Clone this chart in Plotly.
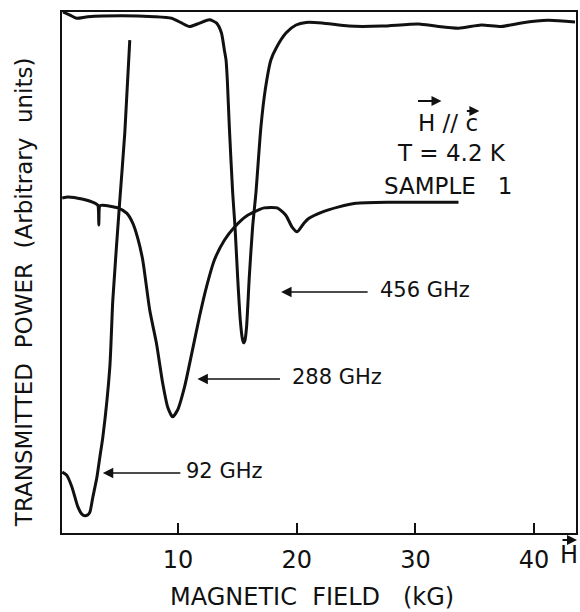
import plotly.graph_objects as go

# ---- data ----
# magnetic field in kG, transmitted power in arbitrary units (0-100 frame)
h_456 = [0.30, 0.89, 1.45, 2.40, 5.25, 8.02, 9.45, 10.29, 10.96, 11.63, 12.64, 13.23, 13.65, 13.90,
         14.04, 14.15, 14.32, 14.60, 14.80, 15.02, 15.24, 15.41, 15.52, 15.64, 15.77, 16.00, 16.28,
         16.56, 16.98, 17.34, 17.82, 18.27, 19.11, 19.94, 20.78, 22.13, 24.39, 27.16, 30.27, 31.70,
         33.63, 35.56, 37.24, 38.92, 41.18, 43.45]
p_456 = [100.0, 99.4, 98.8, 99.1, 99.3, 99.1, 98.8, 97.9, 97.2, 97.7, 98.5, 97.9, 96.0, 92.7,
         90.8, 86.9, 77.9, 65.3, 58.7, 49.1, 40.9, 37.4, 36.5, 37.0, 39.5, 49.1, 58.7,
         65.3, 77.9, 85.0, 90.8, 93.1, 96.0, 97.5, 98.0, 97.9, 97.3, 97.3, 97.7, 97.3,
         96.9, 97.5, 97.2, 97.9, 98.4, 98.1]

h_288 = [0.24, 0.72, 1.90, 2.99, 3.24, 3.32, 3.41, 3.66, 4.92, 5.67, 6.18, 6.60, 7.02, 7.61, 8.17,
         8.70, 9.12, 9.54, 9.96, 10.54, 11.21, 11.80, 12.39, 13.06, 13.90, 14.74, 15.86, 17.26,
         18.35, 19.08, 19.61, 20.03, 20.62, 21.03, 22.13, 23.55, 24.98, 27.75, 30.52, 33.63]
p_288 = [64.3, 64.5, 64.1, 63.3, 62.9, 59.1, 62.8, 62.9, 62.4, 61.4, 59.5, 56.6, 52.4, 42.8, 36.5,
         28.8, 24.2, 22.3, 23.6, 28.0, 35.1, 41.5, 47.2, 52.4, 56.2, 58.7, 61.0, 62.4,
         62.4, 61.0, 58.7, 57.8, 59.5, 60.4, 61.6, 62.6, 63.3, 63.5, 63.5, 63.5]

h_92 = [0.24, 0.61, 1.06, 1.56, 1.90, 2.15, 2.40, 2.57, 2.82, 3.16, 3.41, 3.66, 4.25, 4.50, 5.09,
        5.51, 5.93]
p_92 = [11.7, 11.1, 8.8, 5.0, 3.6, 3.3, 3.5, 4.0, 6.9, 10.7, 14.6, 18.4, 31.9, 44.7, 63.9,
        76.8, 94.6]

tick_vals = [10, 20, 30, 40]
tick_text = ["10", "20", "30", "40"]
curve_labels = ["456 GHz", "288 GHz", "92 GHz"]

FONT = "DejaVu Sans"
INK = "#111111"

fig = go.Figure()
for hx, py in [(h_456, p_456), (h_288, p_288), (h_92, p_92)]:
    fig.add_trace(go.Scatter(x=hx, y=py, mode="lines",
                             line=dict(color=INK, width=3, shape="spline", smoothing=0.6),
                             showlegend=False, hoverinfo="skip"))

W, H = 580, 612
L, R, T, B = 62, 2, 12, 79
pw, ph = W - L - R, H - T - B


def px(xp):
    return (xp - L) / pw


def py_(yp):
    return (H - B - yp) / ph


ann = []
# axis titles
ann.append(dict(xref="paper", yref="paper", x=px(313), y=py_(597), text="MAGNETIC\u00a0\u00a0FIELD\u00a0\u00a0\u00a0(kG)",
                showarrow=False, font=dict(family=FONT, size=24, color=INK), xanchor="center", yanchor="middle"))
ann.append(dict(xref="paper", yref="paper", x=px(24), y=py_(292),
                text="TRANSMITTED\u00a0\u00a0POWER\u00a0\u00a0(Arbitrary\u00a0\u00a0units)", textangle=-90,
                showarrow=False, font=dict(family=FONT, size=23, color=INK), xanchor="center", yanchor="middle"))
# H at end of axis with vector arrow
ann.append(dict(xref="paper", yref="paper", x=px(571), y=py_(555), text="H", showarrow=False,
                font=dict(family=FONT, size=24, color=INK), xanchor="center", yanchor="middle"))
ann.append(dict(xref="paper", yref="paper", x=px(579), y=py_(540), ax=-16, ay=0, text="", showarrow=True,
                arrowhead=2, arrowsize=1, arrowwidth=2, arrowcolor=INK))
# condition block
ann.append(dict(xref="paper", yref="paper", x=px(449), y=py_(123), text="H\u00a0//\u00a0c", showarrow=False,
                font=dict(family=FONT, size=23, color=INK), xanchor="center", yanchor="middle"))
ann.append(dict(xref="paper", yref="paper", x=px(443), y=py_(101), ax=-25, ay=0, text="", showarrow=True,
                arrowhead=2, arrowsize=1, arrowwidth=2, arrowcolor=INK))
ann.append(dict(xref="paper", yref="paper", x=px(481), y=py_(111), ax=-14, ay=0, text="", showarrow=True,
                arrowhead=2, arrowsize=1, arrowwidth=2, arrowcolor=INK))
ann.append(dict(xref="paper", yref="paper", x=px(453), y=py_(153), text="T\u00a0=\u00a04.2\u00a0K", showarrow=False,
                font=dict(family=FONT, size=23, color=INK), xanchor="center", yanchor="middle"))
ann.append(dict(xref="paper", yref="paper", x=px(449), y=py_(186), text="SAMPLE\u00a0\u00a0\u00a01", showarrow=False,
                font=dict(family=FONT, size=23, color=INK), xanchor="center", yanchor="middle"))

# frequency labels with arrows: (arrow head x, tail x, y, text center x)
for lab, (hx, tx, yy, cx) in zip(curve_labels, [(282, 370, 292, 426), (198, 282, 379, 338), (103, 182, 473, 225)]):
    ann.append(dict(xref="paper", yref="paper", x=px(hx), y=py_(yy), ax=tx - hx, ay=0, text="", showarrow=True,
                    arrowhead=2, arrowsize=1.3, arrowwidth=1.6, arrowcolor=INK))
    ann.append(dict(xref="paper", yref="paper", x=px(cx), y=py_(yy - 2), text=lab, showarrow=False,
                    font=dict(family=FONT, size=21, color=INK), xanchor="center", yanchor="middle"))

x0 = (L - 59.4) / 11.913
x1 = (W - R - 59.4) / 11.913

fig.update_layout(
    width=W, height=H, margin=dict(l=L, r=R, t=T, b=B),
    paper_bgcolor="white", plot_bgcolor="white",
    annotations=ann,
    xaxis=dict(range=[x0, x1], showgrid=False, zeroline=False, showline=True, mirror=True,
               linecolor=INK, linewidth=2, ticks="inside", ticklen=10, tickwidth=2, tickcolor=INK,
               tickvals=tick_vals, ticktext=tick_text,
               tickfont=dict(family=FONT, size=24, color=INK), ticklabelstandoff=4),
    yaxis=dict(range=[0, 100], showgrid=False, zeroline=False, showline=True, mirror=True,
               linecolor=INK, linewidth=2, showticklabels=False, ticks=""),
)

fig.write_html("out.html", config={"displayModeBar": False},
               post_script="document.body.style.margin='0';document.body.style.overflow='hidden';")
